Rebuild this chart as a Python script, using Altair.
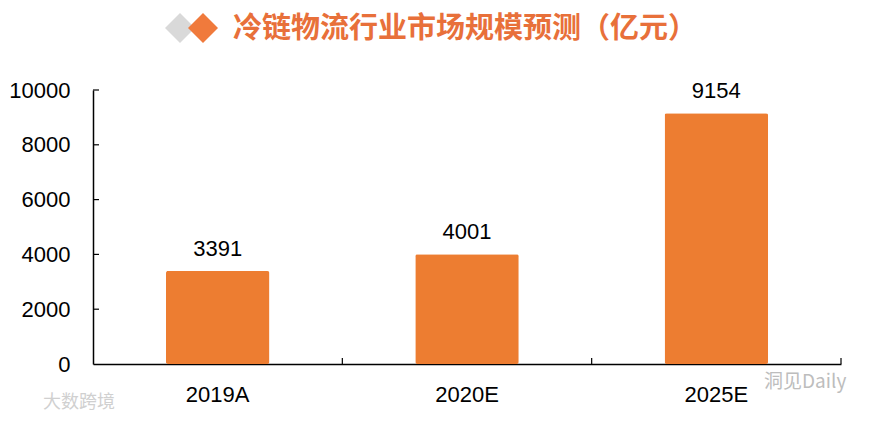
import altair as alt
import pandas as pd

categories = ["2019A", "2020E", "2025E"]
values = [3391, 4001, 9154]
y_ticks = [0, 2000, 4000, 6000, 8000, 10000]
band_edges = [1, 2, 3]
title_text = "冷链物流行业市场规模预测（亿元）"
wm_right = "洞见Daily"
wm_left = "大数跨境"

W, H = 748, 274
ORANGE = "#ED7D31"
FONT = "Liberation Sans"
CJK = "Noto Sans CJK SC"

df = pd.DataFrame({"cat": categories, "val": values})
df_y = pd.DataFrame({"val": y_ticks[1:]})
df_b = pd.DataFrame({"b": band_edges})
one = pd.DataFrame({"k": [0]})

x_enc = alt.X(
    "cat:N", sort=categories, title=None,
    scale=alt.Scale(paddingInner=0.585, paddingOuter=0.2925),
    axis=alt.Axis(labelAngle=0, labelFont=FONT, labelFontSize=22, labelColor="#000",
                  labelPadding=20, ticks=False, domainColor="#000", domainWidth=1.5),
)
y_scale = alt.Scale(domain=[0, 10000])
y_enc = alt.Y(
    "val:Q", title=None, scale=y_scale,
    axis=alt.Axis(values=y_ticks, format="d", ticks=False, grid=False, labelFont=FONT, labelFontSize=22,
                  labelColor="#000", labelPadding=23, domainColor="#000", domainWidth=1.5),
)

bars = alt.Chart(df).mark_bar(color=ORANGE, cornerRadius=2).encode(x=x_enc, y=y_enc)
labels = alt.Chart(df).mark_text(font=FONT, fontSize=22, color="#000", dy=-15, baseline="alphabetic").encode(
    x=x_enc, y=y_enc, text="val:Q"
)
main = alt.layer(bars, labels)

ytick = alt.Chart(df_y).mark_rule(color="#000", strokeWidth=1.2).encode(
    y=y_enc, x=alt.value(0), x2=alt.value(6)
)
xtick = alt.Chart(df_b).mark_rule(color="#000", strokeWidth=1.2).encode(
    x=alt.X("b:Q", scale=alt.Scale(domain=[0, 3]), axis=None), y=alt.value(H), y2=alt.value(H - 6)
)

d_grey = alt.Chart(one).mark_point(shape="diamond", filled=True, size=900, color="#D9D9D9", opacity=1).encode(
    x=alt.value(87), y=alt.value(-62)
)
d_orange = alt.Chart(one).mark_point(shape="diamond", filled=True, size=900, color="#F07A3C", opacity=1).encode(
    x=alt.value(110), y=alt.value(-62)
)
title = alt.Chart(one).mark_text(font=CJK, fontSize=29, fontWeight="bold", color="#E8703A", align="left",
                                 baseline="middle").encode(
    x=alt.value(140), y=alt.value(-61), text=alt.value(title_text)
)
wm1 = alt.Chart(one).mark_text(font=CJK, fontSize=19, color="#BDBDBD", align="left", baseline="middle").encode(
    x=alt.value(671), y=alt.value(292), text=alt.value(wm_right)
)
wm2 = alt.Chart(one).mark_text(font=CJK, fontSize=18, color="#D0D0D0", align="left", baseline="middle").encode(
    x=alt.value(-50), y=alt.value(313), text=alt.value(wm_left)
)

chart = alt.layer(main, ytick, xtick, d_grey, d_orange, title, wm1, wm2).resolve_scale(
    x="independent"
).properties(
    width=W, height=H,
    autosize=alt.AutoSizeParams(type="none"),
    padding={"left": 85, "top": 82, "right": 27, "bottom": 48},
).configure_view(stroke=None)

chart.save("out.html", embed_options={"renderer": "svg", "actions": False})
